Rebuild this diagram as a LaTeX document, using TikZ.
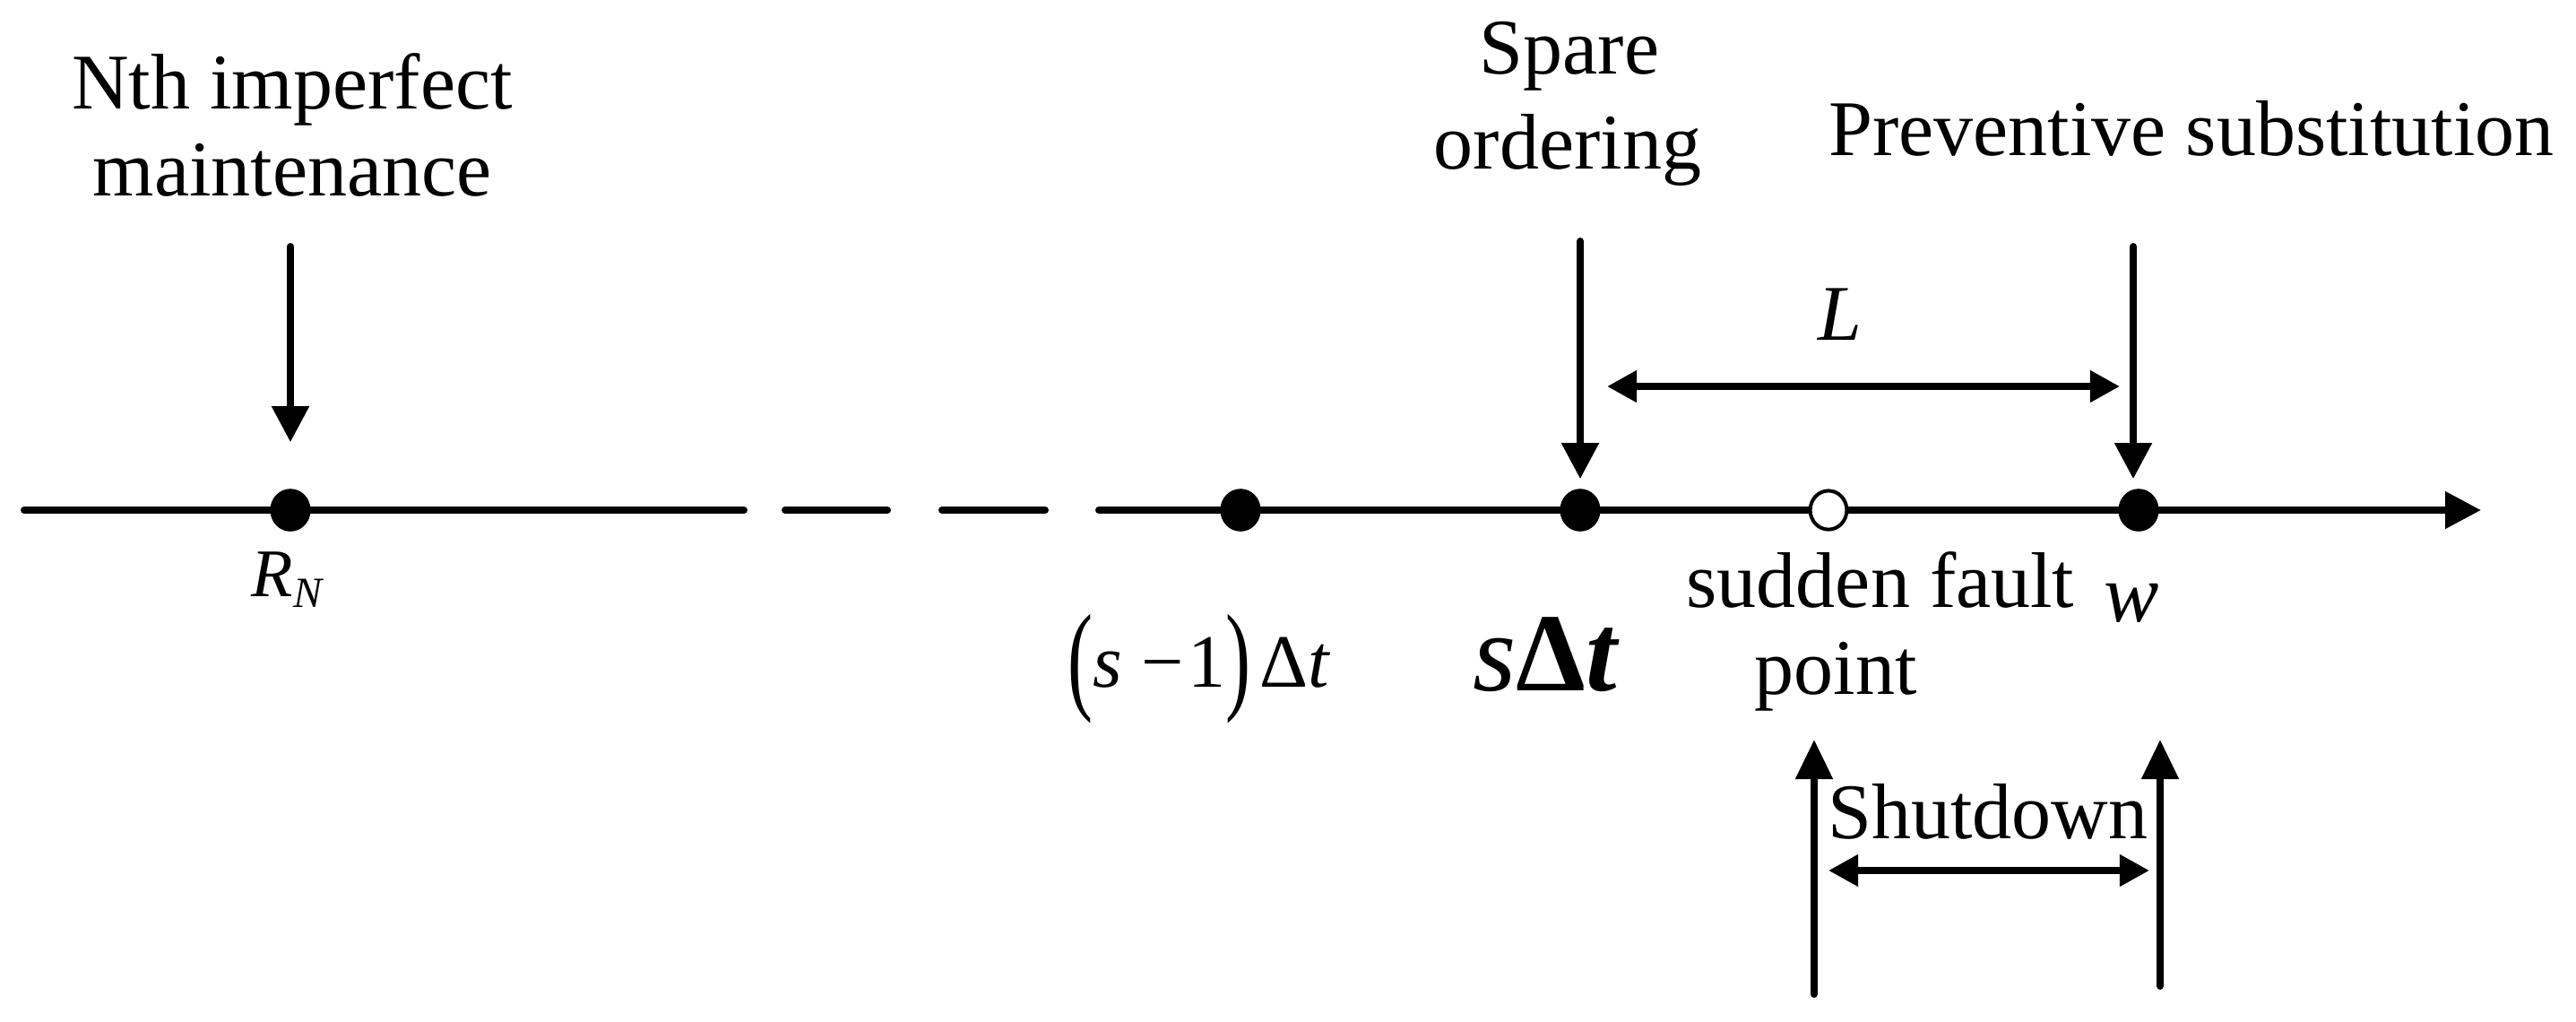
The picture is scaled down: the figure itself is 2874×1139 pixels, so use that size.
\documentclass[tikz,border=0pt]{standalone}
\usepackage{fontspec}
\usepackage{graphicx}
\setmainfont{Liberation Serif}
\usetikzlibrary{arrows.meta,shapes.geometric}
\begin{document}
\begin{tikzpicture}[x=0.25pt,y=-0.25pt,
  line width=2pt, line cap=round,
  dot/.style={ellipse,draw,fill=black,line width=0.5pt,minimum width=10.8pt,minimum height=11.4pt,inner sep=0pt},
  odot/.style={ellipse,draw,fill=white,line width=1pt,minimum width=10.2pt,minimum height=10.8pt,inner sep=0pt},
  lbl/.style={font=\fontsize{22}{24.25}\selectfont, inner sep=0pt, anchor=base},
  down/.style={-{Triangle[width=10pt,length=10pt]}},
  up/.style={-{Triangle[width=10pt,length=11pt]}},
  dbl/.style={{Triangle[width=8.5pt,length=8.3pt]}-{Triangle[width=8.5pt,length=8.3pt]}},
]
\useasboundingbox (0,0) rectangle (2874,1139);

% axis
\coordinate (a0) at (27,569);
\coordinate (a1) at (830,569);
\coordinate (d1s) at (876,569);
\coordinate (d1e) at (990,569);
\coordinate (d2s) at (1051,569);
\coordinate (d2e) at (1166,569);
\coordinate (a2) at (1226,569);
\coordinate (aend) at (2768,569);
\draw (a0) -- (a1);
\draw (d1s) -- (d1e);
\draw (d2s) -- (d2e);
\draw[-{Triangle[width=10pt,length=10pt]}] (a2) -- (aend);

% points
\node[dot] (rn) at (324,569) {};
\node[dot] (sm1) at (1384,569) {};
\node[dot] (sdt) at (1763,569) {};
\node[odot] (sf) at (2040,569) {};
\node[dot] (w) at (2386,569) {};

% top texts
\node[lbl] (nth1) at (326,121) {Nth imperfect};
\node[lbl] (nth2) at (326,218) {maintenance};
\node[lbl] (sp1) at (1751,82) {Spare};
\node[lbl] (sp2) at (1749,188) {ordering};
\node[lbl] (prev) at (2445,173) {Preventive substitution};

% down arrows
\coordinate (nTop) at (324,275);
\coordinate (sTop) at (1763,269);
\coordinate (wTop) at (2380,275);
\draw[down] (nTop) -- ([yshift=13pt]rn.north);
\draw[down] (sTop) -- ([yshift=2.75pt]sdt.north);
\draw[down] (wTop) -- ([xshift=-1.5pt,yshift=2.75pt]w.north);

% L
\coordinate (Ll) at (1793,431);
\coordinate (Lr) at (2365,431);
\draw[dbl] (Ll) -- (Lr);
\node[lbl] (Llab) at (2053,379) {\textit{L}};

% point labels
\node[lbl,font=\fontsize{19}{22}\selectfont] (rnlab) at (321,665) {\textit{R}\raisebox{-0.35ex}{\fontsize{12}{13}\selectfont\textit{N}}};
\node[lbl,font=\fontsize{21}{24}\selectfont] (sm1lab) at (1338,766) {\raisebox{-3.2pt}{\scalebox{1}[1.6]{(}}\textit{s}\hspace{0.25em}−\hspace{0.05em}1\raisebox{-3.2pt}{\scalebox{1}[1.6]{)}}\hspace{0.12em}Δ\textit{t}};
\node[lbl,font=\fontsize{31}{34}\selectfont] (sdtlab) at (1725,770) {\textit{s}\textbf{Δ}\textbf{\textit{t}}};
\node[lbl] (sf1) at (2098,677) {sudden fault};
\node[lbl] (sf2) at (2048,774) {point};
\node[lbl,font=\fontsize{23}{26}\selectfont] (wlab) at (2378,693) {\textit{w}};

% shutdown
\coordinate (u1b) at (2024,1109);
\coordinate (u1t) at (2024,825);
\coordinate (u2b) at (2410,1100);
\coordinate (u2t) at (2410,825);
\draw[up] (u1b) -- (u1t);
\draw[up] (u2b) -- (u2t);
\coordinate (shl) at (2040,971);
\coordinate (shr) at (2398,971);
\draw[dbl] (shl) -- (shr);
\node[lbl] (shut) at (2218,935) {Shutdown};
\end{tikzpicture}
\end{document}
